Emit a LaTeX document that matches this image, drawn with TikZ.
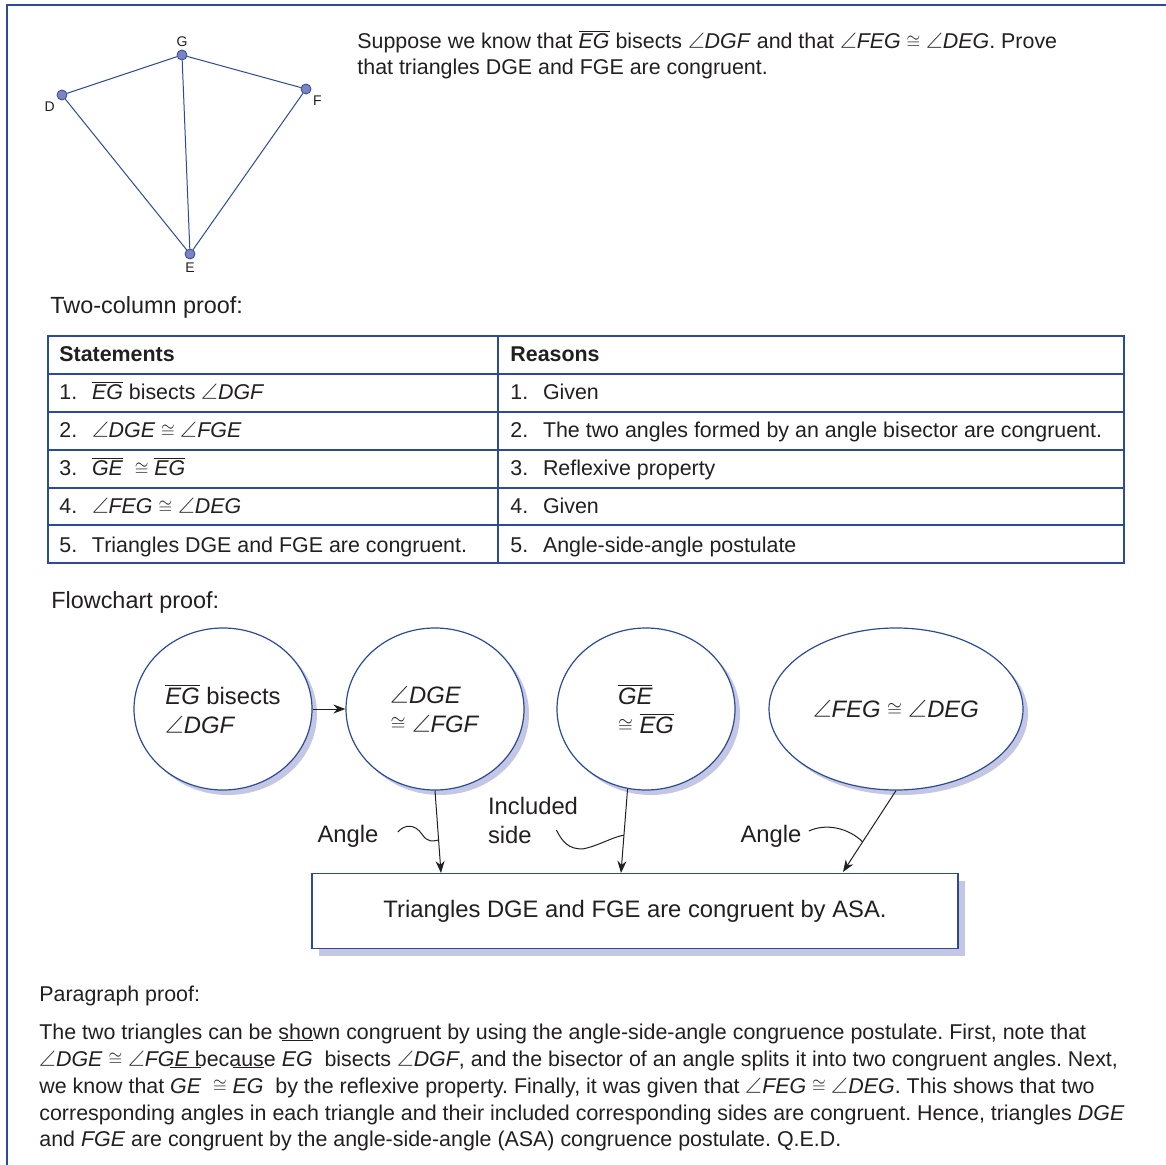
\documentclass[tikz,border=0pt]{standalone}
\usepackage{graphicx}
\usepackage{fontspec}
\setmainfont{Liberation Sans}
\newfontfamily\lmsym{Latin Modern Math}
\usetikzlibrary{arrows.meta,calc,positioning,shapes.geometric,shadows}
\frenchspacing
\definecolor{ink}{HTML}{231F20}
\definecolor{navy}{HTML}{2B4A9C}
\definecolor{dotc}{HTML}{7C82C2}
\definecolor{shade}{HTML}{C4C7E3}
\newcommand{\ang}[1]{{\lmsym\char"2220}\textit{#1}}
\newcommand{\cng}{\raisebox{0.15ex}{\scalebox{0.8}{$\cong$}}}
\newcommand{\seg}[1]{$\overline{\hbox{\itshape #1}}$}
\newcommand{\hibar}[1]{\setbox0\hbox{\itshape #1}\rlap{\raisebox{12.5pt}{\rule{\wd0}{0.6pt}}}\box0}
\newcommand{\nr}[1]{\makebox[16.3pt][l]{#1}}
\tikzset{
  frame/.style={draw=navy,line width=1pt},
  edge/.style={navy,line width=0.5pt},
  vtx/.style={circle,draw=navy,fill=dotc,inner sep=0pt,minimum size=5pt,line width=0.4pt},
  vlabel/.style={font=\fontsize{7}{8}\selectfont,text=ink,inner sep=1.5pt},
  txt/.style={font=\fontsize{10.7}{13.5}\selectfont,text=ink,inner sep=0pt,anchor=base west},
  head/.style={font=\fontsize{11.7}{14}\selectfont,text=ink,inner sep=0pt,anchor=base west},
  grid/.style={draw=navy,line width=0.75pt},
  bubble/.style={ellipse,draw=navy,fill=white,line width=0.6pt,minimum width=89pt,
    minimum height=81pt,inner sep=0pt,align=left,text=ink,
    font=\fontsize{11.9}{14.5}\selectfont,
    drop shadow={shadow xshift=2.5pt,shadow yshift=-2.5pt,fill=shade,opacity=1}},
  outbox/.style={rectangle,draw=navy,fill=white,line width=0.6pt,minimum width=323pt,
    minimum height=37.5pt,text=ink,font=\fontsize{11.9}{14.5}\selectfont,
    drop shadow={shadow xshift=3.5pt,shadow yshift=-3.5pt,fill=shade,opacity=1}},
  flowtxt/.style={font=\fontsize{11.9}{14.5}\selectfont,text=ink,inner sep=0pt},
  arr/.style={-{Stealth[length=6pt,width=4.5pt]},draw=ink,line width=0.5pt},
  squig/.style={draw=ink,line width=0.5pt}
}

\begin{document}
\begin{tikzpicture}[x=0.5pt,y=-0.5pt]
\useasboundingbox (0,0) rectangle (1166,1165);
\fill[white] (0,0) rectangle (1166,1165);
\draw[frame] (1166,5) -- (7,5) -- (7,1165);

% the figure
\node[vtx,label={[vlabel]above:G}] (G) at (182,55) {};
\node[vtx,label={[vlabel]below left:D}] (D) at (62,95) {};
\node[vtx,label={[vlabel]below right:F}] (F) at (306,89) {};
\node[vtx,label={[vlabel]below:E}] (E) at (190,254) {};
\draw[edge] (D) -- (G) -- (F) -- (E) -- (D);
\draw[edge] (G) -- (E);

% problem statement
\node[txt] (q1) at (357,49) {Suppose we know that \seg{EG} bisects \ang{DGF} and that \ang{FEG} \cng\ \ang{DEG}. Prove};
\node[txt] (q2) at (357,75) {that triangles DGE and FGE are congruent.};

% two-column proof
\node[head] (h1) at (50,314) {Two-column proof:};
\draw[grid] (48,336) rectangle (1124,563);
\foreach \y in {374,412,450,488,525}
  \draw[grid] (48,\y) -- (1124,\y);
\draw[grid] (498,336) -- (498,563);
\node[txt] (s0) at (59,362) {\textbf{Statements}};
\node[txt] (r0) at (510,362) {\textbf{Reasons}};
\node[txt] (s1) at (59,400) {\nr{1.}\seg{EG} bisects \ang{DGF}};
\node[txt] (s2) at (59,438) {\nr{2.}\ang{DGE} \cng\ \ang{FGE}};
\node[txt] (s3) at (59,476) {\nr{3.}\seg{GE}\ \ \cng\ \seg{EG}};
\node[txt] (s4) at (59,514) {\nr{4.}\ang{FEG} \cng\ \ang{DEG}};
\node[txt] (s5) at (59,552) {\nr{5.}Triangles DGE and FGE are congruent.};
\node[txt] (r1) at (510,400) {\nr{1.}Given};
\node[txt] (r2) at (510,438) {\nr{2.}The two angles formed by an angle bisector are congruent.};
\node[txt] (r3) at (510,476) {\nr{3.}Reflexive property};
\node[txt] (r4) at (510,514) {\nr{4.}Given};
\node[txt] (r5) at (510,552) {\nr{5.}Angle-side-angle postulate};

% flowchart proof
\node[head] (h2) at (51,608) {Flowchart proof:};
\node[bubble] (b1) at (223,709) {\seg{EG} bisects\\\ang{DGF}};
\node[bubble] (b2) at (435,709) {\ang{DGE}\\\cng\ \ang{FGF}};
\node[bubble] (b3) at (646,709) {\seg{GE}\\\cng\ \seg{EG}};
\node[bubble,minimum width=127pt] (b4) at (896,709) {\ang{FEG} \cng\ \ang{DEG}};
\node[outbox] (box) at (635,911) {Triangles DGE and FGE are congruent by ASA.};
\draw[arr] (b1) -- (b2);
\coordinate (t2) at (441,873);
\coordinate (t3) at (621,873);
\coordinate (t4) at (843,872);
\draw[arr] (b2.south) -- coordinate[pos=0.6] (k1) (t2);
\draw[arr] (b3.257) -- coordinate[pos=0.55] (k2) (t3);
\draw[arr] (b4.south) -- coordinate[pos=0.63] (k3) (t4);
\node[flowtxt] (la1) at (348,836) {Angle};
\node[flowtxt,align=left] (la2) at (533,820) {Included\\side};
\node[flowtxt] (la3) at (771,836) {Angle};
\draw[squig] ($(la1.east)+(19,-4)$) .. controls +(7,-8) and +(-7,-10) .. ++(24,2)
  .. controls +(6,9) and +(-6,1) .. (k1);
\draw[squig] ($(la2.east)+(-22,10)$) .. controls +(6,12) and +(-14,0) .. ++(26,19)
  .. controls +(16,-3) and +(-12,2) .. (k2);
\draw[squig] ($(la3.east)+(7,-5)$) .. controls +(17,-8) and +(-14,-14) .. (k3);

% paragraph proof
\node[txt] (h3) at (39,1001) {Paragraph proof:};
\node[txt] (p1) at (39,1039) {The two triangles can be shown congruent by using the angle-side-angle congruence postulate. First, note that};
\node[txt] (p2) at (39,1066) {\ang{DGE} \cng\ \ang{FGE} because \hibar{EG}\ \ bisects \ang{DGF}, and the bisector of an angle splits it into two congruent angles. Next,};
\node[txt] (p3) at (39,1093) {we know that \hibar{GE}\ \ \cng\ \hibar{EG}\ \ by the reflexive property. Finally, it was given that \ang{FEG} \cng\ \ang{DEG}. This shows that two};
\node[txt] (p4) at (39,1120) {corresponding angles in each triangle and their included corresponding sides are congruent. Hence, triangles \textit{DGE}};
\node[txt] (p5) at (39,1146) {and \textit{FGE} are congruent by the angle-side-angle (ASA) congruence postulate. Q.E.D.};
\end{tikzpicture}
\end{document}
